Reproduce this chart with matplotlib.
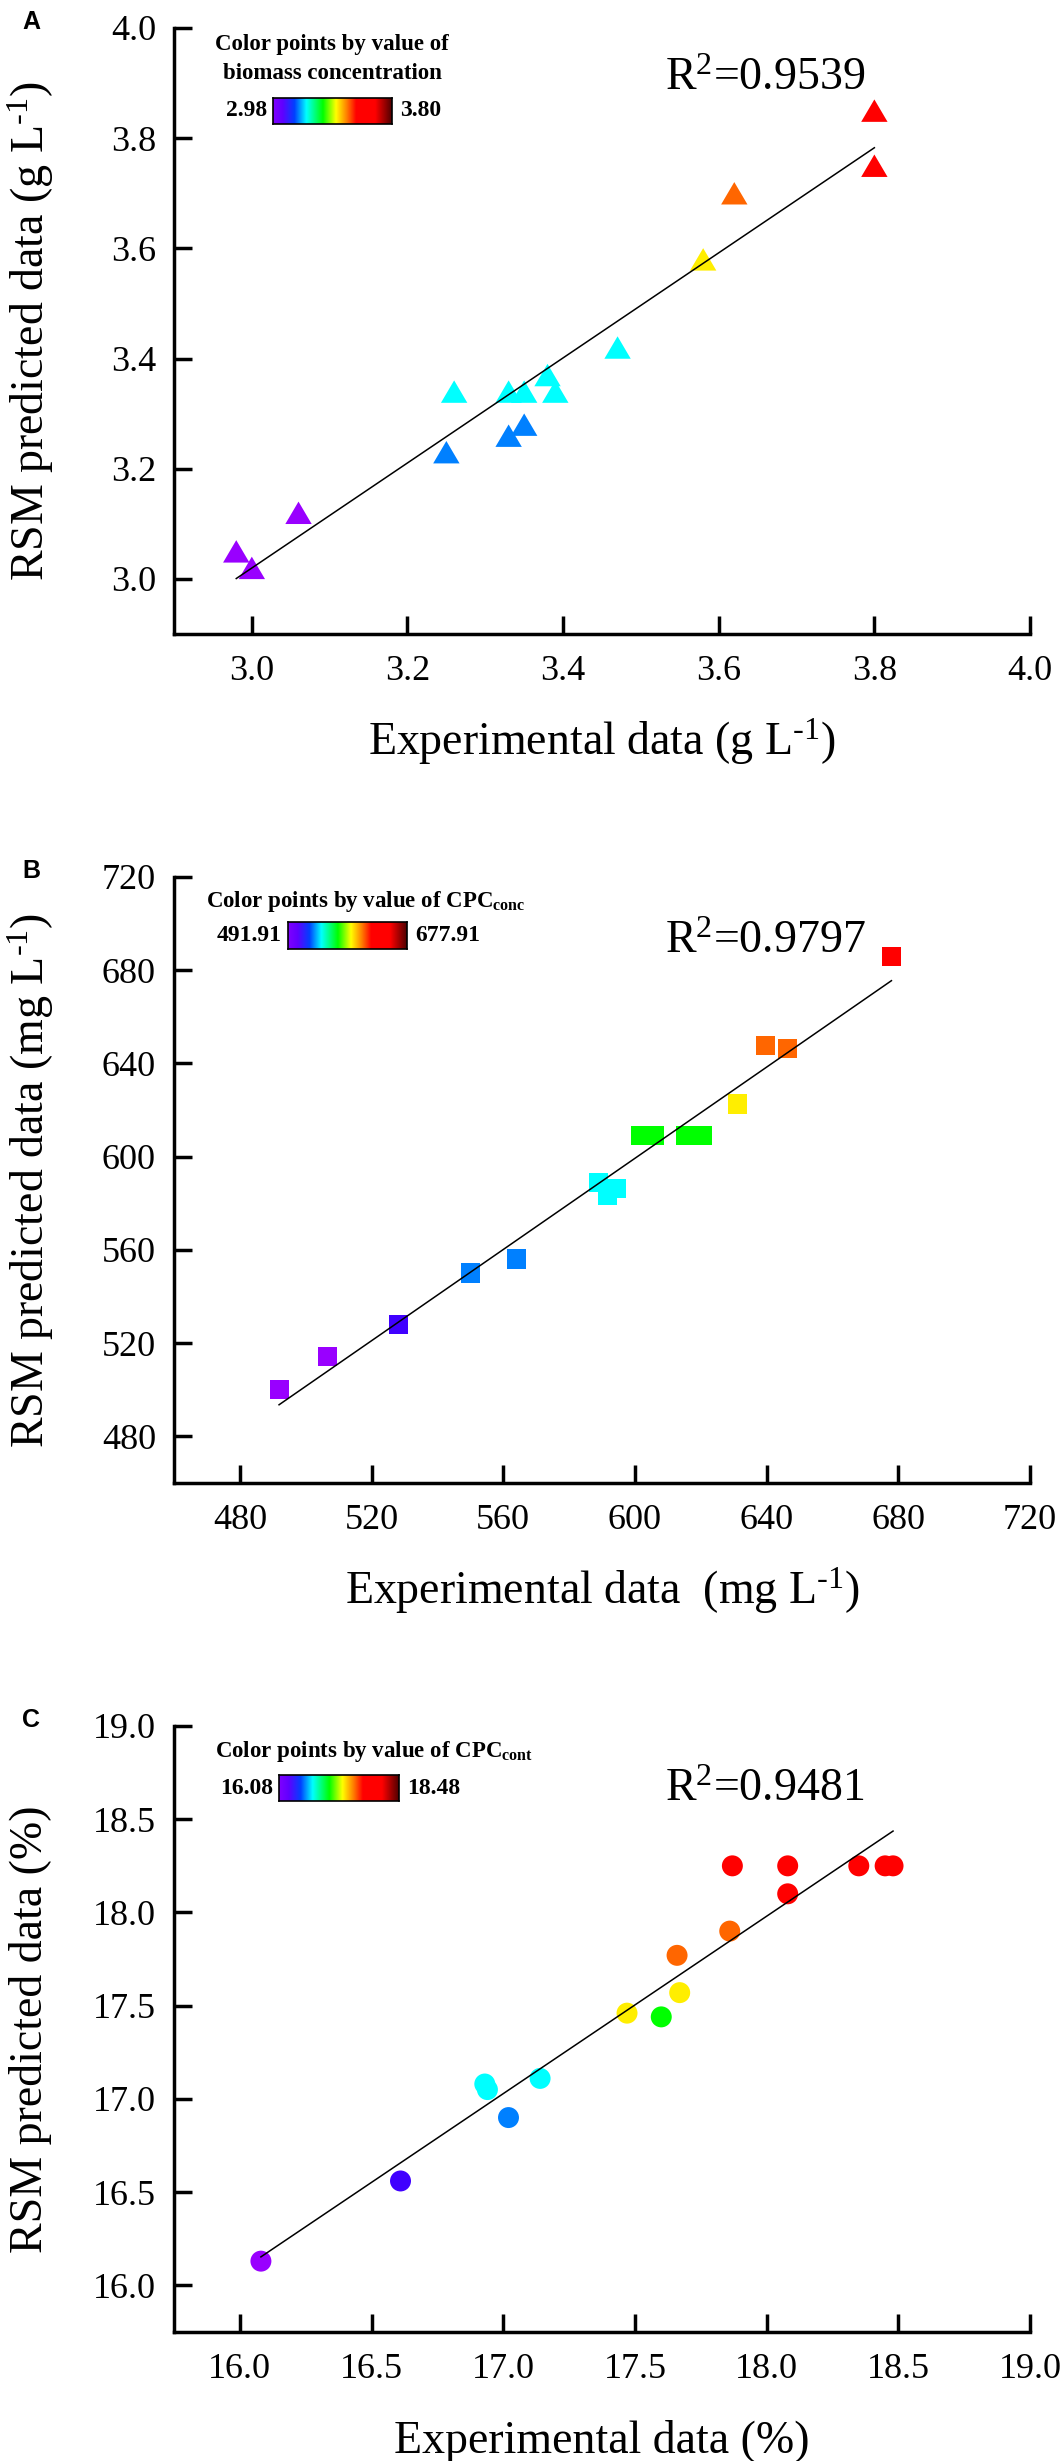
import numpy as np
import matplotlib
matplotlib.use('Agg')
import matplotlib.pyplot as plt
from matplotlib.colors import LinearSegmentedColormap

plt.rcParams['font.family'] = 'Liberation Serif'
plt.rcParams['mathtext.fontset'] = 'custom'
plt.rcParams['mathtext.rm'] = 'Liberation Serif'
plt.rcParams['mathtext.it'] = 'Liberation Serif:italic'
plt.rcParams['mathtext.bf'] = 'Liberation Serif:bold'

# panel A - biomass concentration (g/L)
bio_exp = [2.98, 3.00, 3.06, 3.25, 3.26, 3.33, 3.35, 3.33, 3.35, 3.38, 3.39, 3.47, 3.58, 3.62, 3.80, 3.80]
bio_pred = [3.05, 3.02, 3.12, 3.23, 3.34, 3.26, 3.28, 3.34, 3.34, 3.37, 3.34, 3.42, 3.58, 3.70, 3.85, 3.75]
bio_ticks = [3.0, 3.2, 3.4, 3.6, 3.8, 4.0]

# panel B - CPC concentration (mg/L)
conc_exp = [491.91, 506.7, 528.2, 550.0, 564.0, 588.9, 591.8, 594.3, 601.7, 606.0, 615.5, 620.5, 631.1, 639.8, 646.3, 677.91]
conc_pred = [500.1, 514.3, 528.0, 550.1, 556.1, 589.0, 583.4, 586.2, 609.1, 609.1, 609.1, 609.1, 622.6, 647.9, 646.5, 686.0]
conc_ticks = [480, 520, 560, 600, 640, 680, 720]

# panel C - CPC content (%)
cont_exp = [16.08, 16.61, 16.93, 16.94, 17.02, 17.14, 17.47, 17.60, 17.67, 17.66, 17.86, 17.87, 18.08, 18.08, 18.35, 18.45, 18.48]
cont_pred = [16.13, 16.56, 17.08, 17.05, 16.90, 17.11, 17.46, 17.44, 17.57, 17.77, 17.90, 18.25, 18.25, 18.10, 18.25, 18.25, 18.25]
cont_ticks = [16.0, 16.5, 17.0, 17.5, 18.0, 18.5, 19.0]

r2_labels = ['0.9539', '0.9797', '0.9481']

# point colours (as drawn in the original)
PU, IN, BL, CY, GR, YE, OR, RE = ('#9900ff', '#4000ff', '#0080ff', '#00ffff',
                                  '#00ff00', '#ffee00', '#ff6600', '#ff0000')
bio_cols = [PU, PU, PU, BL, CY, BL, BL, CY, CY, CY, CY, CY, YE, OR, RE, RE]
conc_cols = [PU, PU, IN, BL, BL, CY, CY, CY, GR, GR, GR, GR, YE, OR, OR, RE]
cont_cols = [PU, IN, CY, CY, BL, CY, YE, GR, YE, OR, OR, RE, RE, RE, RE, RE, RE]

cbar_cmap = LinearSegmentedColormap.from_list('sp', [
    (0.0, '#8000ff'), (0.08, '#6000ff'), (0.18, '#0040ff'), (0.28, '#00ffff'),
    (0.42, '#00ff00'), (0.53, '#ffff00'), (0.62, '#ff8000'), (0.70, '#ff0000'),
    (0.86, '#ff0000'), (1.0, '#500000')])

tri = [(-1, -0.85), (1, -0.85), (0, 0.85)]
inv = r'$^{\text{-}1}$'

W, H = 1063, 2461
fig = plt.figure(figsize=(W / 100, H / 100), dpi=100)


def px_axes(l, t, r, b):
    return fig.add_axes([l / W, 1 - b / H, (r - l) / W, (b - t) / H])


def ftext(x, y, s, **kw):
    return fig.text(x / W, 1 - y / H, s, **kw)


panels = [
    dict(x=bio_exp, y=bio_pred, c=bio_cols, ticks=bio_ticks, lim=(2.9, 4.0), fmt='{:.1f}',
         marker=tri, s=361, letter='A',
         ylab='RSM predicted data (g L' + inv + ')', xlab='Experimental data (g L' + inv + ')',
         r2y=0.898,
         leg=[('Color points by value of', 50), ('biomass concentration', 79)], legx=332,
         bar=(273, 98, 392, 124), lo='2.98', hi='3.80'),
    dict(x=conc_exp, y=conc_pred, c=conc_cols, ticks=conc_ticks, lim=(460, 720), fmt='{:.0f}',
         marker='s', s=188, letter='B',
         ylab='RSM predicted data (mg L' + inv + ')', xlab='Experimental data  (mg L' + inv + ')',
         r2y=0.874,
         leg=[(r'Color points by value of CPC$_{\mathbf{conc}}$', 907 - 849)], legx=366,
         bar=(288, 922 - 849, 407, 949 - 849), lo='491.91', hi='677.91'),
    dict(x=cont_exp, y=cont_pred, c=cont_cols, ticks=cont_ticks, lim=(15.75, 19.0), fmt='{:.1f}',
         marker='o', s=228, letter='C',
         ylab='RSM predicted data (%)', xlab='Experimental data (%)',
         r2y=0.877,
         leg=[(r'Color points by value of CPC$_{\mathbf{cont}}$', 1757 - 1698)], legx=374,
         bar=(279, 1775 - 1698, 399, 1801 - 1698), lo='16.08', hi='18.48'),
]

for i, p in enumerate(panels):
    off = 849 * i
    top, bot = 28 + off, 634 + off
    ax = px_axes(174, top, 1030, bot)

    ax.scatter(p['x'], p['y'], c=p['c'], marker=p['marker'], s=p['s'],
               linewidths=0, zorder=2, clip_on=False)
    k, b = np.polyfit(p['x'], p['y'], 1)
    xs = np.array([min(p['x']), max(p['x'])])
    ax.plot(xs, k * xs + b, color='black', lw=1.1, zorder=3)

    ax.set_xlim(*p['lim'])
    ax.set_ylim(*p['lim'])
    ax.set_xticks(p['ticks'])
    ax.set_yticks(p['ticks'])
    ax.set_xticklabels([p['fmt'].format(t) for t in p['ticks']])
    ax.set_yticklabels([p['fmt'].format(t) for t in p['ticks']])
    for side in ['top', 'right']:
        ax.spines[side].set_visible(False)
    for side in ['left', 'bottom']:
        ax.spines[side].set_linewidth(2.5)
    ax.tick_params(direction='in', length=13, width=2.5, labelsize=26)
    ax.tick_params(axis='x', pad=15)
    ax.tick_params(axis='y', pad=13)

    ax.text(0.574, p['r2y'], r'R$^{2}$=' + r2_labels[i], transform=ax.transAxes,
            fontsize=33, va='baseline', ha='left')

    # labels and panel letter
    ftext(31, (top + bot) / 2, p['ylab'], rotation=90, fontsize=33,
          ha='center', va='center')
    ftext(602, bot + 121, p['xlab'], fontsize=33, ha='center', va='baseline')
    ftext(22, 10 + off, p['letter'], fontsize=18, fontweight='bold',
          family='Liberation Sans', ha='left', va='top')

    # colour legend
    for txt, yb in p['leg']:
        ftext(p['legx'], yb + off, txt, fontsize=16.5, fontweight='bold',
              ha='center', va='baseline')
    l, t, r, bb = p['bar']
    cax = px_axes(l, t + off, r, bb + off)
    cax.imshow(np.linspace(0, 1, 256).reshape(1, -1), cmap=cbar_cmap,
               aspect='auto', extent=(0, 1, 0, 1))
    cax.set_xticks([])
    cax.set_yticks([])
    for sp in cax.spines.values():
        sp.set_linewidth(1.2)
    ym = (t + bb) / 2 + off
    ftext(l - 6, ym, p['lo'], fontsize=17, fontweight='bold', ha='right', va='center')
    ftext(r + 8, ym, p['hi'], fontsize=17, fontweight='bold', ha='left', va='center')

fig.savefig('out.png', dpi=100)
